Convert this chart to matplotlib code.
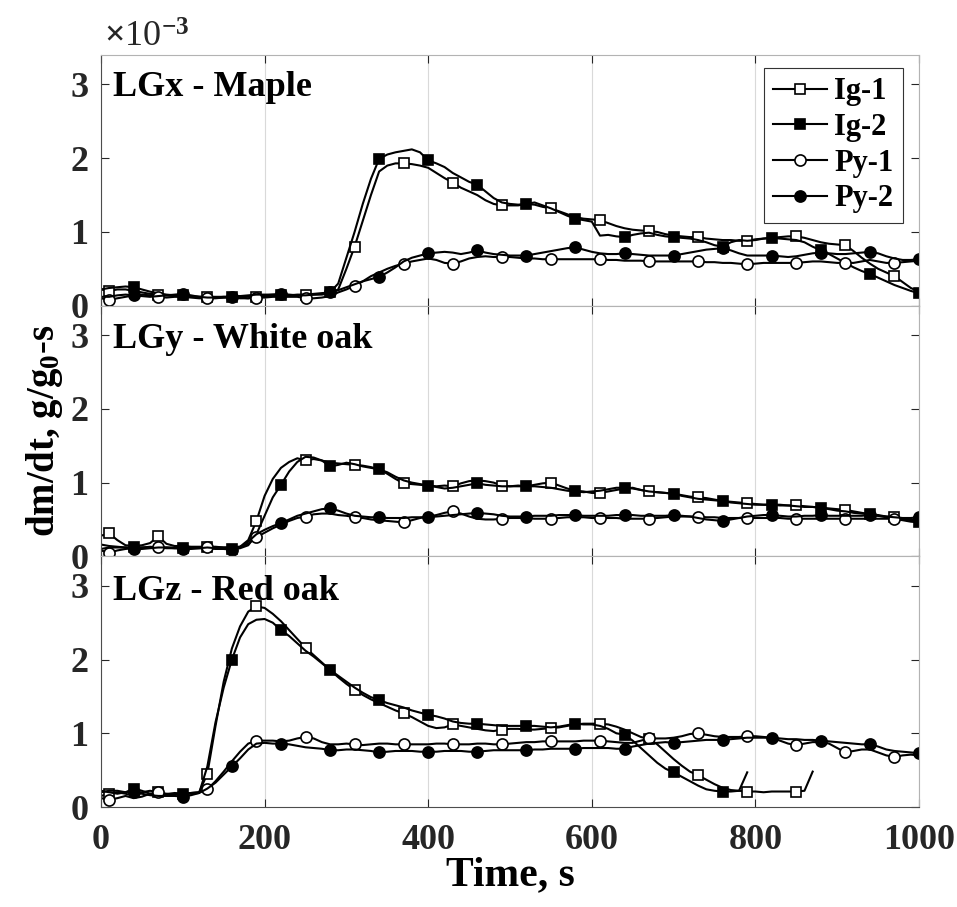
import numpy as np
import matplotlib.pyplot as plt

plt.rcParams['font.family'] = ['Liberation Serif', 'DejaVu Serif']
plt.rcParams['font.weight'] = 'bold'
plt.rcParams['mathtext.fontset'] = 'custom'
plt.rcParams['mathtext.rm'] = 'Liberation Serif:bold'
plt.rcParams['mathtext.bf'] = 'Liberation Serif:bold'
plt.rcParams['mathtext.it'] = 'Liberation Serif:bold'

#%% data: dm/dt in 1e-3 g/g0-s, one value every 10 s
time = np.arange(0, 1001, 10)

maple_ig1 = [0.22, 0.20, 0.22, 0.22, 0.20, 0.18, 0.16, 0.15, 0.14, 0.13,
             0.13, 0.12, 0.12, 0.12, 0.11, 0.11, 0.12, 0.11, 0.10, 0.12,
             0.13, 0.13, 0.14, 0.14, 0.14, 0.14, 0.15, 0.15, 0.17, 0.22,
             0.50, 0.80, 1.15, 1.50, 1.82, 1.90, 1.93, 1.93, 1.92, 1.90,
             1.87, 1.80, 1.73, 1.67, 1.60, 1.55, 1.50, 1.43, 1.38, 1.36,
             1.36, 1.36, 1.38, 1.37, 1.34, 1.32, 1.28, 1.24, 1.20, 1.18,
             1.17, 1.16, 1.12, 1.08, 1.05, 1.03, 1.02, 1.01, 1.00, 0.97,
             0.95, 0.94, 0.93, 0.93, 0.91, 0.90, 0.89, 0.89, 0.88, 0.88,
             0.90, 0.91, 0.92, 0.93, 0.94, 0.94, 0.92, 0.89, 0.86, 0.84,
             0.83, 0.82, 0.74, 0.65, 0.57, 0.50, 0.45, 0.40, 0.32, 0.24,
             0.19]
maple_ig2 = [0.22, 0.24, 0.25, 0.26, 0.25, 0.22, 0.19, 0.17, 0.15, 0.14,
             0.14, 0.13, 0.12, 0.12, 0.12, 0.12, 0.12, 0.13, 0.13, 0.13,
             0.14, 0.15, 0.15, 0.14, 0.15, 0.15, 0.16, 0.17, 0.18, 0.30,
             0.65, 1.00, 1.38, 1.72, 1.99, 2.05, 2.08, 2.10, 2.12, 2.08,
             1.97, 1.93, 1.88, 1.80, 1.74, 1.68, 1.64, 1.55, 1.46, 1.40,
             1.38, 1.37, 1.38, 1.40, 1.36, 1.32, 1.27, 1.22, 1.18, 1.16,
             1.14, 0.95, 0.96, 0.94, 0.93, 0.96, 0.98, 0.99, 0.96, 0.94,
             0.93, 0.92, 0.91, 0.89, 0.86, 0.82, 0.80, 0.86, 0.89, 0.88,
             0.89, 0.91, 0.92, 0.91, 0.90, 0.89, 0.86, 0.80, 0.75, 0.70,
             0.64, 0.58, 0.52, 0.47, 0.43, 0.38, 0.33, 0.28, 0.24, 0.20,
             0.17]
maple_py1 = [0.10, 0.08, 0.10, 0.12, 0.14, 0.15, 0.14, 0.12, 0.11, 0.12,
             0.12, 0.11, 0.10, 0.10, 0.10, 0.11, 0.11, 0.10, 0.10, 0.11,
             0.11, 0.12, 0.12, 0.12, 0.12, 0.10, 0.10, 0.11, 0.13, 0.18,
             0.22, 0.27, 0.33, 0.40, 0.45, 0.50, 0.54, 0.57, 0.60, 0.62,
             0.64, 0.62, 0.58, 0.57, 0.60, 0.64, 0.66, 0.67, 0.66, 0.66,
             0.66, 0.65, 0.64, 0.64, 0.63, 0.63, 0.63, 0.63, 0.63, 0.63,
             0.63, 0.63, 0.62, 0.62, 0.61, 0.61, 0.61, 0.60, 0.60, 0.60,
             0.60, 0.60, 0.60, 0.60, 0.59, 0.59, 0.58, 0.58, 0.57, 0.56,
             0.57, 0.58, 0.58, 0.58, 0.58, 0.58, 0.59, 0.60, 0.60, 0.59,
             0.58, 0.58, 0.58, 0.60, 0.62, 0.60, 0.58, 0.58, 0.59, 0.60,
             0.61]
maple_py2 = [0.12, 0.12, 0.14, 0.15, 0.14, 0.13, 0.12, 0.13, 0.14, 0.15,
             0.16, 0.14, 0.12, 0.11, 0.11, 0.12, 0.12, 0.13, 0.14, 0.15,
             0.15, 0.15, 0.16, 0.15, 0.14, 0.14, 0.15, 0.16, 0.18, 0.21,
             0.25, 0.29, 0.33, 0.36, 0.39, 0.45, 0.52, 0.60, 0.65, 0.68,
             0.71, 0.72, 0.73, 0.72, 0.70, 0.72, 0.75, 0.72, 0.70, 0.69,
             0.68, 0.68, 0.68, 0.70, 0.72, 0.74, 0.76, 0.78, 0.79, 0.76,
             0.73, 0.71, 0.70, 0.70, 0.71, 0.70, 0.69, 0.68, 0.68, 0.68,
             0.68, 0.70, 0.72, 0.74, 0.76, 0.77, 0.78, 0.75, 0.71, 0.68,
             0.68, 0.68, 0.68, 0.67, 0.66, 0.67, 0.69, 0.71, 0.72, 0.71,
             0.70, 0.70, 0.71, 0.72, 0.73, 0.71, 0.67, 0.64, 0.62, 0.62,
             0.63]

woak_ig1 = [0.28, 0.31, 0.22, 0.15, 0.14, 0.15, 0.18, 0.27, 0.17, 0.14,
            0.14, 0.13, 0.13, 0.13, 0.12, 0.12, 0.12, 0.13, 0.22, 0.48,
            0.82, 1.05, 1.20, 1.28, 1.33, 1.30, 1.32, 1.30, 1.27, 1.26,
            1.25, 1.24, 1.23, 1.21, 1.18, 1.12, 1.05, 0.99, 0.98, 0.97,
            0.96, 0.95, 0.96, 0.95, 0.99, 1.02, 1.03, 1.02, 1.00, 0.96,
            0.95, 0.96, 0.95, 0.97, 0.99, 1.00, 0.96, 0.92, 0.89, 0.88,
            0.86, 0.86, 0.88, 0.90, 0.92, 0.93, 0.90, 0.88, 0.87, 0.86,
            0.85, 0.83, 0.81, 0.80, 0.79, 0.77, 0.75, 0.74, 0.73, 0.72,
            0.71, 0.70, 0.70, 0.70, 0.69, 0.69, 0.68, 0.67, 0.66, 0.65,
            0.64, 0.63, 0.61, 0.59, 0.57, 0.56, 0.54, 0.53, 0.51, 0.49,
            0.47]
woak_ig2 = [0.16, 0.14, 0.13, 0.12, 0.12, 0.12, 0.12, 0.12, 0.12, 0.12,
            0.11, 0.11, 0.11, 0.11, 0.10, 0.10, 0.10, 0.11, 0.15, 0.30,
            0.55, 0.80, 0.97, 1.15, 1.28, 1.35, 1.34, 1.30, 1.22, 1.24,
            1.27, 1.25, 1.22, 1.20, 1.18, 1.14, 1.08, 1.03, 1.00, 0.98,
            0.96, 0.94, 0.92, 0.93, 0.95, 0.97, 0.99, 0.97, 0.96, 0.95,
            0.95, 0.95, 0.95, 0.95, 0.94, 0.93, 0.91, 0.89, 0.88, 0.87,
            0.88, 0.89, 0.91, 0.93, 0.93, 0.92, 0.90, 0.88, 0.87, 0.86,
            0.85, 0.82, 0.80, 0.78, 0.77, 0.76, 0.75, 0.73, 0.72, 0.71,
            0.70, 0.70, 0.70, 0.69, 0.69, 0.68, 0.67, 0.67, 0.66, 0.64,
            0.62, 0.61, 0.59, 0.58, 0.57, 0.55, 0.53, 0.51, 0.49, 0.47,
            0.46]
woak_py1 = [0.08, 0.05, 0.08, 0.10, 0.11, 0.12, 0.13, 0.12, 0.11, 0.11,
            0.12, 0.12, 0.12, 0.13, 0.13, 0.12, 0.12, 0.13, 0.17, 0.26,
            0.32, 0.38, 0.43, 0.48, 0.52, 0.54, 0.57, 0.58, 0.58, 0.56,
            0.55, 0.53, 0.52, 0.50, 0.49, 0.48, 0.47, 0.46, 0.49, 0.52,
            0.54, 0.56, 0.59, 0.61, 0.58, 0.54, 0.51, 0.50, 0.50, 0.51,
            0.52, 0.52, 0.52, 0.51, 0.51, 0.51, 0.52, 0.53, 0.53, 0.53,
            0.52, 0.52, 0.52, 0.52, 0.51, 0.51, 0.51, 0.51, 0.52, 0.53,
            0.54, 0.54, 0.54, 0.54, 0.53, 0.53, 0.52, 0.52, 0.52, 0.52,
            0.52, 0.52, 0.52, 0.52, 0.51, 0.51, 0.51, 0.51, 0.51, 0.51,
            0.51, 0.51, 0.51, 0.51, 0.51, 0.51, 0.51, 0.51, 0.51, 0.50,
            0.49]
woak_py2 = [0.10, 0.12, 0.12, 0.12, 0.10, 0.10, 0.11, 0.12, 0.12, 0.11,
            0.10, 0.10, 0.11, 0.12, 0.11, 0.10, 0.09, 0.12, 0.20, 0.30,
            0.36, 0.41, 0.45, 0.50, 0.55, 0.58, 0.61, 0.64, 0.65, 0.62,
            0.58, 0.55, 0.54, 0.53, 0.53, 0.52, 0.52, 0.52, 0.53, 0.53,
            0.53, 0.54, 0.55, 0.56, 0.57, 0.58, 0.59, 0.58, 0.57, 0.55,
            0.54, 0.54, 0.54, 0.55, 0.55, 0.55, 0.56, 0.56, 0.56, 0.55,
            0.55, 0.55, 0.55, 0.56, 0.56, 0.56, 0.55, 0.55, 0.55, 0.55,
            0.56, 0.55, 0.54, 0.52, 0.50, 0.49, 0.48, 0.50, 0.52, 0.54,
            0.55, 0.56, 0.56, 0.55, 0.54, 0.54, 0.55, 0.55, 0.56, 0.55,
            0.55, 0.55, 0.55, 0.55, 0.56, 0.55, 0.54, 0.53, 0.52, 0.52,
            0.53]

# red oak Ig runs stop early (Ig-1 at 870 s, Ig-2 at 790 s)
roak_ig1 = [0.15, 0.18, 0.20, 0.18, 0.15, 0.20, 0.22, 0.20, 0.18, 0.18,
            0.18, 0.19, 0.20, 0.45, 1.10, 1.70, 2.15, 2.45, 2.65, 2.72,
            2.70, 2.62, 2.52, 2.40, 2.28, 2.16, 2.06, 1.96, 1.86, 1.76,
            1.67, 1.59, 1.52, 1.46, 1.41, 1.36, 1.31, 1.27, 1.22, 1.16,
            1.10, 1.07, 1.08, 1.12, 1.10, 1.08, 1.06, 1.04, 1.03, 1.05,
            1.06, 1.06, 1.05, 1.05, 1.06, 1.07, 1.08, 1.10, 1.12, 1.13,
            1.13, 1.13, 1.12, 1.09, 1.05, 1.00, 0.95, 0.92, 0.85, 0.75,
            0.65, 0.56, 0.48, 0.43, 0.37, 0.31, 0.26, 0.23, 0.22, 0.21,
            0.21, 0.20, 0.21, 0.21, 0.21, 0.21, 0.22, 0.48] + [np.nan] * 13
roak_ig2 = [0.22, 0.20, 0.18, 0.20, 0.25, 0.22, 0.18, 0.16, 0.17, 0.19,
            0.18, 0.18, 0.19, 0.55, 1.15, 1.62, 2.00, 2.30, 2.48, 2.54,
            2.55, 2.50, 2.40, 2.32, 2.22, 2.12, 2.04, 1.95, 1.86, 1.78,
            1.70, 1.62, 1.55, 1.49, 1.45, 1.41, 1.38, 1.35, 1.31, 1.28,
            1.25, 1.23, 1.20, 1.16, 1.14, 1.13, 1.13, 1.12, 1.11, 1.10,
            1.10, 1.10, 1.10, 1.10, 1.09, 1.08, 1.09, 1.11, 1.13, 1.12,
            1.12, 1.10, 1.06, 1.00, 0.98, 0.90, 0.80, 0.70, 0.60, 0.52,
            0.47, 0.41, 0.35, 0.29, 0.24, 0.22, 0.21, 0.21, 0.22, 0.47] + [np.nan] * 21
roak_py1 = [0.12, 0.10, 0.12, 0.15, 0.12, 0.14, 0.18, 0.20, 0.16, 0.17,
            0.18, 0.19, 0.20, 0.24, 0.35, 0.48, 0.62, 0.75, 0.86, 0.90,
            0.90, 0.90, 0.89, 0.90, 0.93, 0.95, 0.93, 0.88, 0.85, 0.85,
            0.86, 0.85, 0.84, 0.85, 0.86, 0.86, 0.85, 0.85, 0.85, 0.85,
            0.85, 0.86, 0.86, 0.85, 0.85, 0.85, 0.86, 0.86, 0.85, 0.85,
            0.86, 0.87, 0.88, 0.88, 0.89, 0.89, 0.89, 0.89, 0.89, 0.90,
            0.90, 0.90, 0.89, 0.88, 0.87, 0.87, 0.90, 0.93, 0.93, 0.93,
            0.94, 0.96, 0.99, 1.00, 0.98, 0.96, 0.95, 0.95, 0.95, 0.96,
            0.96, 0.95, 0.94, 0.90, 0.86, 0.84, 0.86, 0.88, 0.88, 0.86,
            0.80, 0.74, 0.76, 0.78, 0.78, 0.74, 0.70, 0.68, 0.70, 0.71,
            0.70]
roak_py2 = [0.20, 0.22, 0.22, 0.20, 0.20, 0.18, 0.16, 0.15, 0.15, 0.15,
            0.14, 0.16, 0.19, 0.25, 0.33, 0.44, 0.55, 0.66, 0.78, 0.86,
            0.87, 0.86, 0.86, 0.85, 0.83, 0.81, 0.80, 0.79, 0.77, 0.77,
            0.78, 0.78, 0.77, 0.76, 0.74, 0.75, 0.76, 0.76, 0.76, 0.75,
            0.75, 0.75, 0.76, 0.76, 0.76, 0.75, 0.75, 0.76, 0.77, 0.77,
            0.77, 0.77, 0.77, 0.78, 0.78, 0.79, 0.79, 0.79, 0.79, 0.80,
            0.80, 0.80, 0.80, 0.79, 0.79, 0.82, 0.84, 0.86, 0.87, 0.88,
            0.87, 0.88, 0.89, 0.90, 0.91, 0.91, 0.91, 0.92, 0.93, 0.94,
            0.94, 0.94, 0.94, 0.93, 0.92, 0.92, 0.91, 0.91, 0.90, 0.89,
            0.88, 0.87, 0.86, 0.85, 0.85, 0.82, 0.78, 0.76, 0.75, 0.74,
            0.73]

panels = [('LGx - Maple', [maple_ig1, maple_ig2, maple_py1, maple_py2]),
          ('LGy - White oak', [woak_ig1, woak_ig2, woak_py1, woak_py2]),
          ('LGz - Red oak', [roak_ig1, roak_ig2, roak_py1, roak_py2])]
labels = ['Ig-1', 'Ig-2', 'Py-1', 'Py-2']
markers = ['s', 's', 'o', 'o']
faces = ['white', 'black', 'white', 'black']
msizes = [6.5, 6.5, 8, 8]
mark_every = [(1, 6), (4, 6), (1, 6), (4, 6)]

#%% figure
fig = plt.figure(figsize=(9.57, 9.07), dpi=100)
gs = fig.add_gridspec(3, 1, left=101 / 957, right=919 / 957,
                      top=1 - 55 / 907, bottom=1 - 807 / 907, hspace=0)

for i, (title, series) in enumerate(panels):
    ax = fig.add_subplot(gs[i])
    for y, lab, m, fc, ms, me in zip(series, labels, markers, faces, msizes, mark_every):
        ax.plot(time, y, color='black', lw=1.5, marker=m, ms=ms, mfc=fc,
                mec='black', mew=1.2, markevery=me, label=lab)
    ax.set_xlim(0, 1000)
    ax.set_ylim(0, 3.4)
    ax.set_yticks([0, 1, 2, 3])
    ax.set_xticks(range(0, 1001, 200))
    ax.grid(axis='x', color='0.85', lw=0.8)
    ax.tick_params(direction='in', length=6, width=0.8, top=True, right=True,
                   labelsize=26, colors='0.15')
    ax.tick_params(axis='x', pad=12)
    ax.tick_params(axis='y', pad=9)
    for s in ['left', 'bottom']:
        ax.spines[s].set_color('0.3')
    for s in ['top', 'right']:
        ax.spines[s].set_color('0.7')
    ax.text(0.015, 0.835 - 0.005 * i, title, transform=ax.transAxes,
            fontsize=26, fontweight='bold', va='baseline', ha='left')
    if i < 2:
        ax.tick_params(labelbottom=False)
    if i == 0:
        leg = ax.legend(loc='upper right', bbox_to_anchor=(0.98, 0.948),
                        borderaxespad=0, fontsize=22, handlelength=1.75,
                        handletextpad=0.25, labelspacing=0.22, borderpad=0.3,
                        fancybox=False, framealpha=1, edgecolor='0.2')
        leg.get_frame().set_linewidth(0.8)
    if i == 1:
        ax.set_ylabel('dm/dt, g/g$_0$-s', fontsize=28, fontweight='bold', labelpad=4)
    if i == 2:
        ax.set_xlabel('Time, s', fontsize=30, fontweight='bold', labelpad=0)

fig.text(104 / 957, 1 - 47 / 907, r'$\times$10$^{-3}$', fontsize=26,
         fontweight='normal', va='baseline', ha='left', color='0.15')

fig.savefig('out.png', dpi=100)
